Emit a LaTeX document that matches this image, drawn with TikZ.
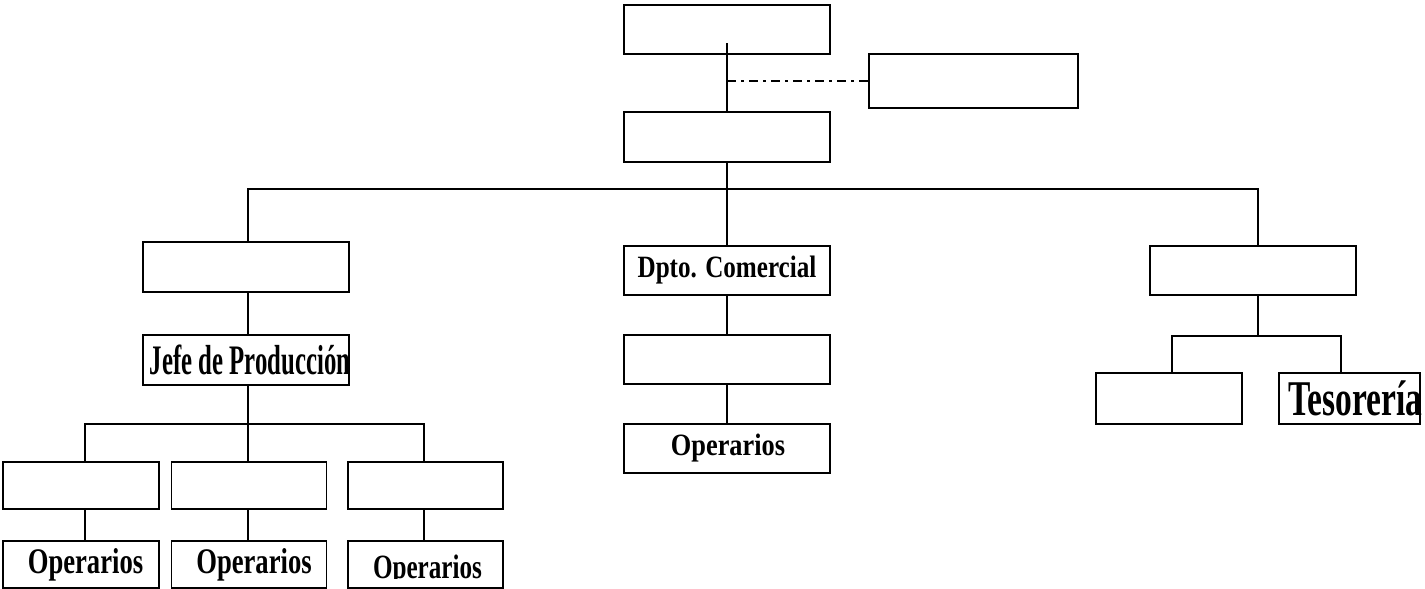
\documentclass[tikz,border=0pt]{standalone}
\usepackage{fontspec}
\setmainfont{Liberation Serif}
\usepackage{graphicx}
\usetikzlibrary{calc}

\tikzset{
  caja/.style={draw, line width=1.4pt, inner sep=0pt, minimum width=206pt, minimum height=50pt},
  cajap/.style={caja, minimum width=156pt, minimum height=47pt},
  cajaf/.style={caja, minimum width=144pt, minimum height=51pt},
  linea/.style={line width=1.4pt},
}
% texto comprimido: [desplazamiento], tamaño, escala horizontal, texto
\newcommand{\rotulo}[4][0pt]{\makebox[0pt]{\hspace*{#1}{\fontsize{#2}{#2}\selectfont\bfseries\scalebox{#3}[1]{#4}}}}

\begin{document}
\begin{tikzpicture}[x=1pt,y=-1pt]
\useasboundingbox (0,0) rectangle (1425,589);

%%%%%%%%%%%%%%%%%%%%%%%%
% Dirección
%%%%%%%%%%%%%%%%%%%%%%%%
\node[caja, minimum height=49pt] (dir) at (727,29.5) {};
\node[caja, line width=2.2pt, minimum width=209pt, minimum height=54pt] (asesor) at (973.5,81) {};
\node[caja] (ger) at (727,137) {};
\coordinate (d0) at (727,43);
\draw[linea] (d0) -- (ger.north);
\draw[linea, dash pattern=on 9pt off 5pt on 3pt off 5pt] (d0 |- asesor.west) -- (asesor.west);

%%%%%%%%%%%%%%%%%%%%%%%%
% Departamentos
%%%%%%%%%%%%%%%%%%%%%%%%
\node[caja] (prod) at (246,267) {};
\node[caja, minimum height=49pt] (com) at (727,270.5) {\rotulo{31}{0.81}{Dpto. Comercial}};
\node[caja, minimum height=49pt] (fin) at (1253,270.5) {};
\coordinate (ejeF) at ([xshift=5pt]fin.north);
\draw[linea] (ger.south) -- (com.north);
\draw[linea] ([xshift=2pt]prod.north) |- (ger.south |- 0,189) -| (ejeF);

%%%%%%%%%%%%%%%%%%%%%%%%
% Producción
%%%%%%%%%%%%%%%%%%%%%%%%
\node[caja] (jefe) at (246,360) {\rotulo[8pt]{42}{0.59}{Jefe de Producción}};
\draw[linea] ([xshift=2pt]prod.south) -- ([xshift=2pt]jefe.north);
\node[cajap] (sec1) at (81,485.5) {};
\node[cajap, minimum width=155pt] (sec2) at (249,485.5) {};
\node[cajap, minimum width=155pt] (sec3) at (425.5,485.5) {};
\draw[linea] ([xshift=2pt]jefe.south) -- ([xshift=-1pt]sec2.north);
\draw[linea] ([xshift=4pt]sec1.north) |- ([xshift=2pt]jefe.south |- 0,424) -| ([xshift=-1.5pt]sec3.north);
\node[cajap] (op1) at (81,564.5) {\rotulo[9pt]{36}{0.74}{Operarios}};
\node[cajap, minimum width=155pt] (op2) at (249,564.5) {\rotulo[10pt]{36}{0.74}{Operarios}};
\node[cajap, minimum width=155pt] (op3) at (425.5,564.5) {};
\begin{scope}
  \clip (348,541) rectangle (503,578);
  \node at ([yshift=-5.5pt, xshift=2pt]op3.center) {\rotulo{34}{0.74}{Operarios}};
\end{scope}
\draw[linea] ([xshift=4pt]sec1.south) -- ([xshift=4pt]op1.north);
\draw[linea] ([xshift=-1pt]sec2.south) -- ([xshift=-1pt]op2.north);
\draw[linea] ([xshift=-1.5pt]sec3.south) -- ([xshift=-1.5pt]op3.north);

%%%%%%%%%%%%%%%%%%%%%%%%
% Comercial
%%%%%%%%%%%%%%%%%%%%%%%%
\node[caja, minimum height=49pt] (comsub) at (727,359.5) {};
\node[caja, minimum height=49pt] (opcom) at (727,448.5) {\rotulo[2pt]{31}{0.85}{Operarios}};
\draw[linea] (com.south) -- (comsub.north);
\draw[linea] (comsub.south) -- (opcom.north);

%%%%%%%%%%%%%%%%%%%%%%%%
% Finanzas
%%%%%%%%%%%%%%%%%%%%%%%%
\node[cajaf, minimum width=146pt] (fin1) at (1169,398.5) {};
\node[cajaf, minimum width=141pt] (tes) at (1349.5,398.5) {\rotulo[12pt]{50}{0.67}{Tesorería}};
\draw[linea] ([xshift=5pt]fin.south) -- ([xshift=5pt]fin.south |- 0,336);
\draw[linea] ([xshift=3pt]fin1.north) |- ([xshift=5pt]fin.south |- 0,336) -| ([xshift=-8.5pt]tes.north);

\end{tikzpicture}
\end{document}
